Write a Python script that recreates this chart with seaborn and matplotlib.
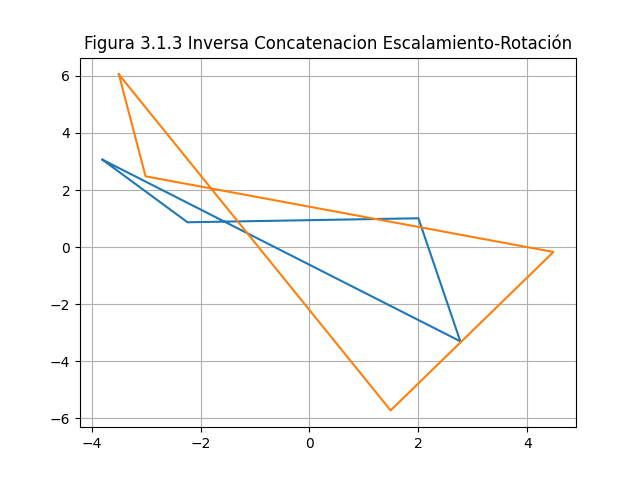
import matplotlib
matplotlib.use("Agg")
import matplotlib.pyplot as plt
import seaborn as sns

# closed polygons (first point repeated)
blue_x = [-3.8, -2.24, 2.0, 2.77, -3.8]
blue_y = [3.06, 0.87, 1.01, -3.3, 3.06]
orange_x = [-3.5, -3.01, 4.48, 1.49, -3.5]
orange_y = [6.05, 2.48, -0.17, -5.72, 6.05]

fig, ax = plt.subplots(figsize=(6.4, 4.8), dpi=100)
sns.lineplot(x=blue_x, y=blue_y, sort=False, estimator=None, color="#1f77b4", ax=ax)
sns.lineplot(x=orange_x, y=orange_y, sort=False, estimator=None, color="#ff7f0e", ax=ax)
ax.set_title("Figura 3.1.3 Inversa Concatenacion Escalamiento-Rotación")
ax.grid(True)
fig.savefig("out.png")
